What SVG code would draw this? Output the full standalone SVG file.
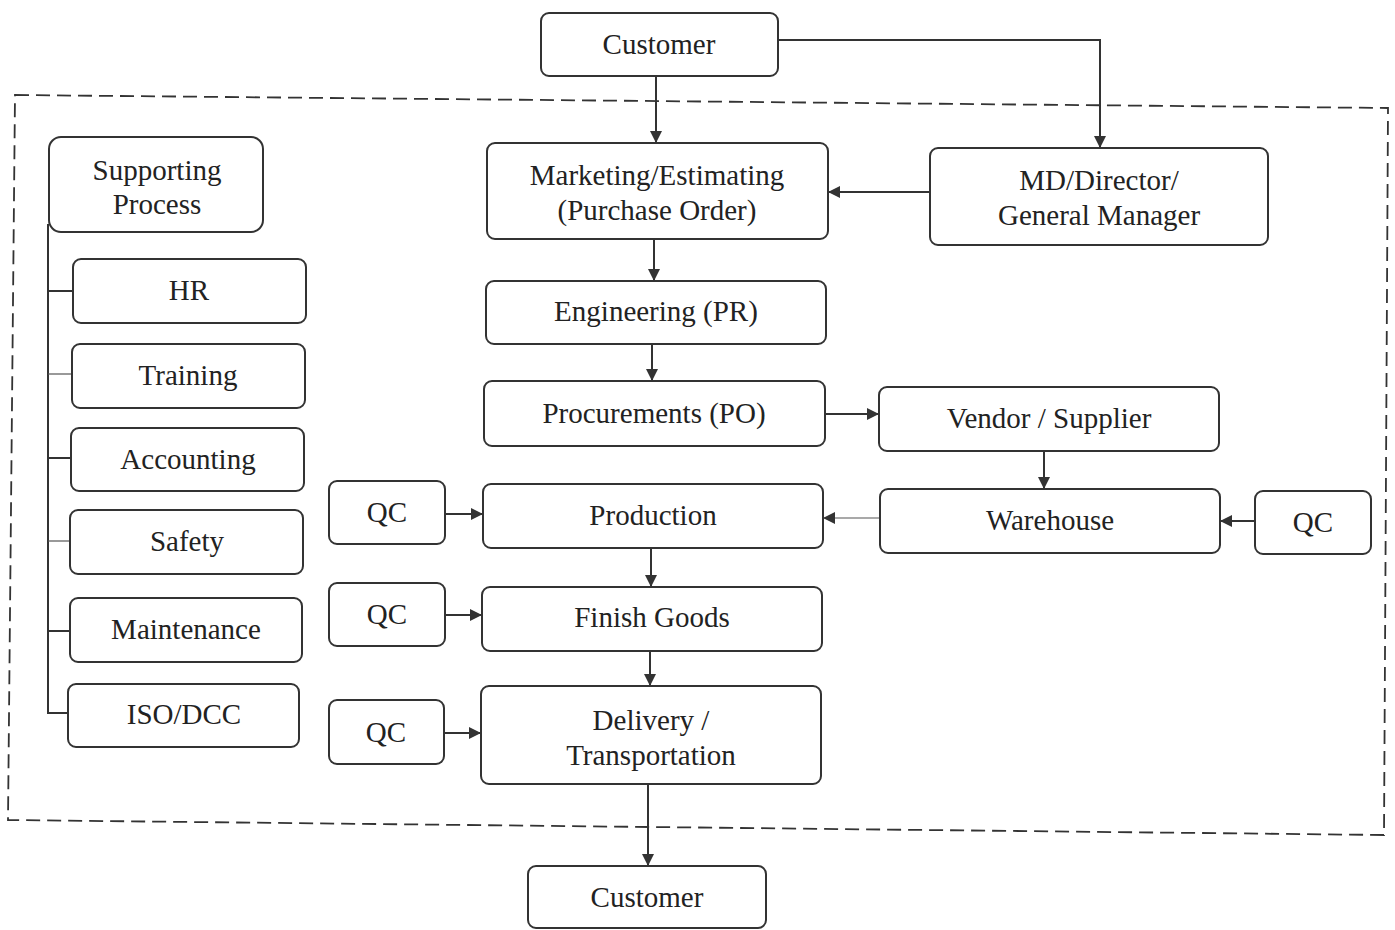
<svg xmlns="http://www.w3.org/2000/svg" width="1395" height="930" viewBox="0 0 1395 930">
<defs>
<marker id="ah" viewBox="0 0 10 10" refX="10" refY="5" markerWidth="12" markerHeight="12" markerUnits="userSpaceOnUse" orient="auto">
<path d="M0,0 L10,5 L0,10 Z" fill="#333"/>
</marker>
</defs>
<style>
.n{fill:#fff;stroke:#333;stroke-width:2}
.t{font-family:"Liberation Serif","Times New Roman",serif;font-size:29px;fill:#222;text-anchor:middle;dominant-baseline:central}
.c{fill:none;stroke:#333;stroke-width:2}
.cl{fill:none;stroke:#555;stroke-width:1.2}
.f{fill:none;stroke:#333;stroke-width:1.8;stroke-dasharray:14 7}
</style>
<rect width="1395" height="930" fill="#fff"/>
<path class="f" d="M15,95 L1388,108 L1384,835 L8,820 Z"/>
<g id="connectors">
<path class="c" d="M656,76 V143" marker-end="url(#ah)"/>
<path class="c" d="M778,40 H1100 V148" marker-end="url(#ah)"/>
<path class="c" d="M930,192 H828" marker-end="url(#ah)"/>
<path class="c" d="M654,239 V281" marker-end="url(#ah)"/>
<path class="c" d="M652,344 V381" marker-end="url(#ah)"/>
<path class="c" d="M825,414 H879" marker-end="url(#ah)"/>
<path class="c" d="M1044,451 V489" marker-end="url(#ah)"/>
<path class="cl" d="M880,518 H823" marker-end="url(#ah)"/>
<path class="c" d="M1255,521 H1220" marker-end="url(#ah)"/>
<path class="c" d="M445,514 H483" marker-end="url(#ah)"/>
<path class="c" d="M651,548 V587" marker-end="url(#ah)"/>
<path class="c" d="M445,615 H482" marker-end="url(#ah)"/>
<path class="c" d="M650,651 V686" marker-end="url(#ah)"/>
<path class="c" d="M444,733 H481" marker-end="url(#ah)"/>
<path class="c" d="M648,784 V866" marker-end="url(#ah)"/>
<path class="c" d="M48,224 V713 H68"/>
<path class="c" d="M48,291 H73"/>
<path class="cl" d="M48,374 H72"/>
<path class="c" d="M48,458 H71"/>
<path class="cl" d="M48,541 H70"/>
<path class="c" d="M48,631 H70"/>
</g>
<g id="customer-top"><rect class="n" x="541" y="13" width="237" height="63" rx="8"/><text class="t" x="659" y="44">Customer</text></g>
<g id="marketing"><rect class="n" x="487" y="143" width="341" height="96" rx="8"/><text class="t" x="657" y="175">Marketing/Estimating</text><text class="t" x="657" y="210">(Purchase Order)</text></g>
<g id="md"><rect class="n" x="930" y="148" width="338" height="97" rx="8"/><text class="t" x="1099" y="180">MD/Director/</text><text class="t" x="1099" y="215">General Manager</text></g>
<g id="engineering"><rect class="n" x="486" y="281" width="340" height="63" rx="8"/><text class="t" x="656" y="311">Engineering (PR)</text></g>
<g id="procurements"><rect class="n" x="484" y="381" width="341" height="65" rx="8"/><text class="t" x="654" y="413">Procurements (PO)</text></g>
<g id="vendor"><rect class="n" x="879" y="387" width="340" height="64" rx="8"/><text class="t" x="1049" y="418">Vendor / Supplier</text></g>
<g id="warehouse"><rect class="n" x="880" y="489" width="340" height="64" rx="8"/><text class="t" x="1050" y="520">Warehouse</text></g>
<g id="qc-right"><rect class="n" x="1255" y="491" width="116" height="63" rx="8"/><text class="t" x="1313" y="522">QC</text></g>
<g id="production"><rect class="n" x="483" y="484" width="340" height="64" rx="8"/><text class="t" x="653" y="515">Production</text></g>
<g id="qc1"><rect class="n" x="329" y="481" width="116" height="63" rx="8"/><text class="t" x="387" y="512">QC</text></g>
<g id="finish"><rect class="n" x="482" y="587" width="340" height="64" rx="8"/><text class="t" x="652" y="617">Finish Goods</text></g>
<g id="qc2"><rect class="n" x="329" y="583" width="116" height="63" rx="8"/><text class="t" x="387" y="614">QC</text></g>
<g id="delivery"><rect class="n" x="481" y="686" width="340" height="98" rx="8"/><text class="t" x="651" y="720">Delivery /</text><text class="t" x="651" y="755">Transportation</text></g>
<g id="qc3"><rect class="n" x="329" y="700" width="115" height="64" rx="8"/><text class="t" x="386" y="732">QC</text></g>
<g id="customer-bottom"><rect class="n" x="528" y="866" width="238" height="62" rx="8"/><text class="t" x="647" y="897">Customer</text></g>
<g id="supporting"><rect class="n" x="49" y="137" width="214" height="95" rx="12"/><text class="t" x="157" y="170">Supporting</text><text class="t" x="157" y="204">Process</text></g>
<g id="hr"><rect class="n" x="73" y="259" width="233" height="64" rx="8"/><text class="t" x="189" y="290">HR</text></g>
<g id="training"><rect class="n" x="72" y="344" width="233" height="64" rx="8"/><text class="t" x="188" y="375">Training</text></g>
<g id="accounting"><rect class="n" x="71" y="428" width="233" height="63" rx="8"/><text class="t" x="188" y="459">Accounting</text></g>
<g id="safety"><rect class="n" x="70" y="510" width="233" height="64" rx="8"/><text class="t" x="187" y="541">Safety</text></g>
<g id="maintenance"><rect class="n" x="70" y="598" width="232" height="64" rx="8"/><text class="t" x="186" y="629">Maintenance</text></g>
<g id="iso"><rect class="n" x="68" y="684" width="231" height="63" rx="8"/><text class="t" x="184" y="714">ISO/DCC</text></g>
</svg>
